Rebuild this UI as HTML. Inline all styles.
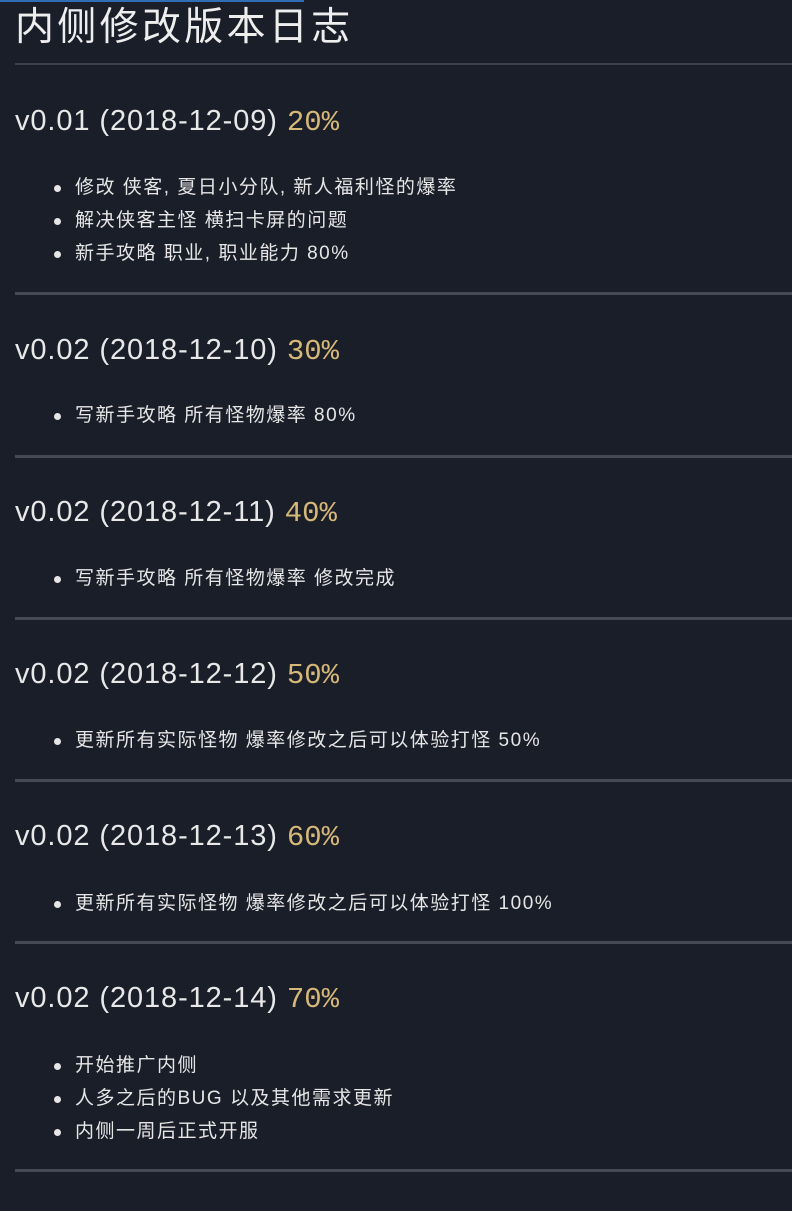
<!DOCTYPE html>
<html><head><meta charset="utf-8"><style>
html,body{margin:0;padding:0;background:#1a1e29;width:792px;height:1211px;overflow:hidden;font-family:"Liberation Sans","Noto Sans CJK SC",sans-serif;color:#e6e6e6;position:relative}
.abs{position:absolute}
.topbar{left:0;top:0;width:304px;height:2px;background:#2f6db5}
.title{left:15px;top:3px;font-size:39px;line-height:50px;letter-spacing:3.3px;color:#eee}
.h1rule{left:15px;top:63px;width:777px;height:2px;background:#3d4049}
.h2{left:15px;font-size:29px;line-height:36px;color:#e8e8e8;letter-spacing:0.9px}
.pct{color:#d6b878;font-family:"Liberation Mono",monospace;letter-spacing:0}
.li{left:75px;font-size:19px;line-height:24px;color:#e6e6e6;letter-spacing:1.5px;white-space:nowrap}
.li:before{content:"";position:absolute;left:-21px;top:9px;width:7px;height:7px;border-radius:50%;background:#e6e6e6}
.hr{left:15px;width:777px;height:3px;background:#464953}
</style></head><body>
<div class="abs topbar"></div>
<div class="abs title">内侧修改版本日志</div>
<div class="abs h1rule"></div>

<div class="abs h2" style="top:103px">v0.01 (2018-12-09) <span class="pct">20%</span></div>
<div class="abs li" style="top:176px">修改 侠客, 夏日小分队, 新人福利怪的爆率</div>
<div class="abs li" style="top:209px">解决侠客主怪 横扫卡屏的问题</div>
<div class="abs li" style="top:242px">新手攻略 职业, 职业能力 80%</div>
<div class="abs hr" style="top:292px"></div>

<div class="abs h2" style="top:332px">v0.02 (2018-12-10) <span class="pct">30%</span></div>
<div class="abs li" style="top:404px">写新手攻略 所有怪物爆率 80%</div>
<div class="abs hr" style="top:455px"></div>

<div class="abs h2" style="top:494px">v0.02 (2018-12-11) <span class="pct">40%</span></div>
<div class="abs li" style="top:567px">写新手攻略 所有怪物爆率 修改完成</div>
<div class="abs hr" style="top:617px"></div>

<div class="abs h2" style="top:656px">v0.02 (2018-12-12) <span class="pct">50%</span></div>
<div class="abs li" style="top:729px">更新所有实际怪物 爆率修改之后可以体验打怪 50%</div>
<div class="abs hr" style="top:779px"></div>

<div class="abs h2" style="top:818px">v0.02 (2018-12-13) <span class="pct">60%</span></div>
<div class="abs li" style="top:892px">更新所有实际怪物 爆率修改之后可以体验打怪 100%</div>
<div class="abs hr" style="top:941px"></div>

<div class="abs h2" style="top:980px">v0.02 (2018-12-14) <span class="pct">70%</span></div>
<div class="abs li" style="top:1054px">开始推广内侧</div>
<div class="abs li" style="top:1087px">人多之后的BUG 以及其他需求更新</div>
<div class="abs li" style="top:1120px">内侧一周后正式开服</div>
<div class="abs hr" style="top:1169px"></div>
</body></html>
